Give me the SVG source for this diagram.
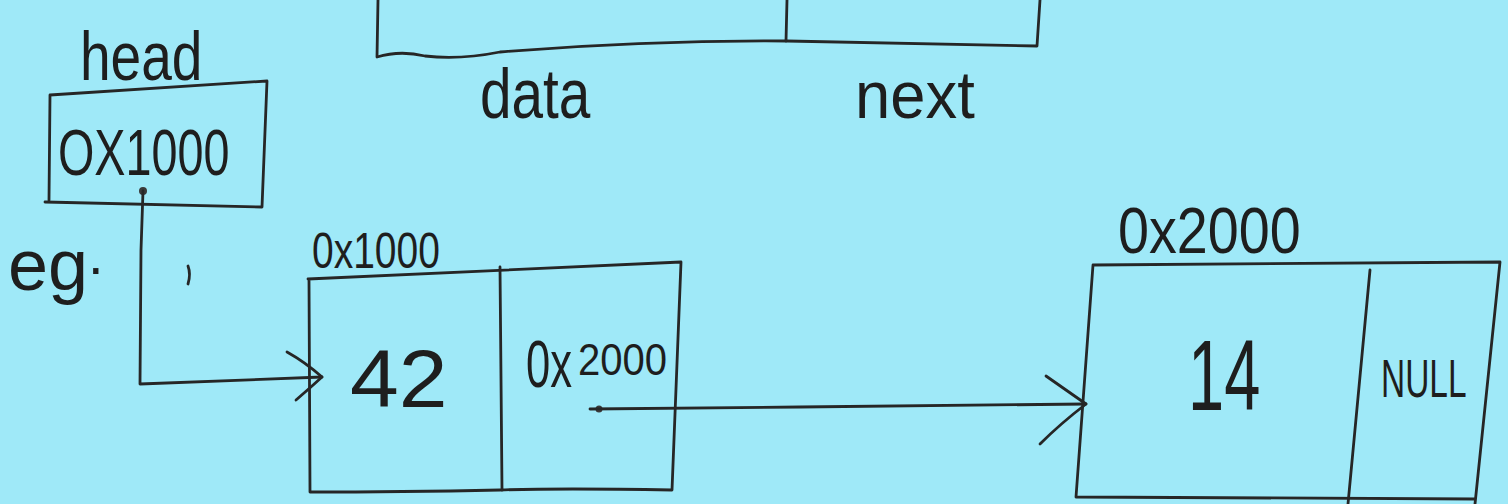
<svg xmlns="http://www.w3.org/2000/svg" width="1508" height="504" viewBox="0 0 1508 504">
  <style>
    .ink { fill: none; stroke: #262626; stroke-width: 2.8; stroke-linecap: round; stroke-linejoin: round; }
    .hand { fill: #1e1e1e; font-family: "Liberation Sans", "DejaVu Sans", sans-serif; }
    .dot { fill: #3a3a3a; }
  </style>
  <rect x="0" y="0" width="1508" height="504" fill="#9fe9f8"/>

  <!-- struct layout: data | next -->
  <g id="struct-template">
    <path class="ink" d="M378,0 L377,57 Q400,50 425,56 Q460,60 500,52 Q650,40 787,41 L1037,46 L1040,0"/>
    <path class="ink" d="M787,0 L786,41"/>
    <text class="hand" transform="translate(480,118) scale(0.81,1)" font-size="70">data</text>
    <text class="hand" transform="translate(855,118) scale(0.96,1)" font-size="66">next</text>
  </g>

  <!-- head pointer variable -->
  <g id="head">
    <text class="hand" transform="translate(80,80) scale(0.81,1)" font-size="68">head</text>
    <path class="ink" d="M50,95 L267,81 L262,207 L45,202 M50,95 L49,200"/>
    <text class="hand" transform="translate(58,175) scale(0.73,1)" font-size="64">OX1000</text>
  </g>

  <text class="hand" x="8" y="290" font-size="72">eg<tspan dx="0" dy="-16" font-size="56">.</tspan></text>
  <path class="ink" d="M188,266 Q191,274 188,284"/>

  <!-- node at 0x1000 -->
  <g id="node-0x1000">
    <text class="hand" transform="translate(312,268) scale(0.78,1)" font-size="50">0x1000</text>
    <path class="ink" d="M308,279 L681,262 L672,490 Q560,488 500,490 Q400,492 310,492 L309,279"/>
    <path class="ink" d="M500,267 L502,490"/>
    <text class="hand" transform="translate(350,407) scale(1.07,1)" font-size="82">42</text>
    <text class="hand" transform="translate(526,387) scale(0.66,1)" font-size="66">0x</text>
    <text class="hand" transform="translate(578,375) scale(0.91,1)" font-size="44">2000</text>
  </g>

  <!-- node at 0x2000 -->
  <g id="node-0x2000">
    <text class="hand" transform="translate(1118,253) scale(0.87,1)" font-size="64">0x2000</text>
    <path class="ink" d="M1093,265 L1500,262 L1475,504 M1093,265 L1076,497 L1475,499"/>
    <path class="ink" d="M1370,270 L1348,504"/>
    <text class="hand" transform="translate(1188,410) scale(0.65,1)" font-size="100">14</text>
    <text class="hand" transform="translate(1381,397) scale(0.62,1)" font-size="54">NULL</text>
  </g>

  <!-- pointer connectors -->
  <g id="connectors">
    <circle class="dot" cx="143" cy="191" r="4"/>
    <path class="ink" d="M143,191 L141,250 L140,384 L322,377"/>
    <path class="ink" d="M287,352 Q305,362 322,377 Q310,388 296,400"/>
    <circle class="dot" cx="599" cy="409" r="3.5"/>
    <path class="ink" d="M590,409 L800,407 L1086,404"/>
    <path class="ink" d="M1046,376 Q1066,390 1086,404 Q1060,424 1040,444"/>
  </g>
</svg>
